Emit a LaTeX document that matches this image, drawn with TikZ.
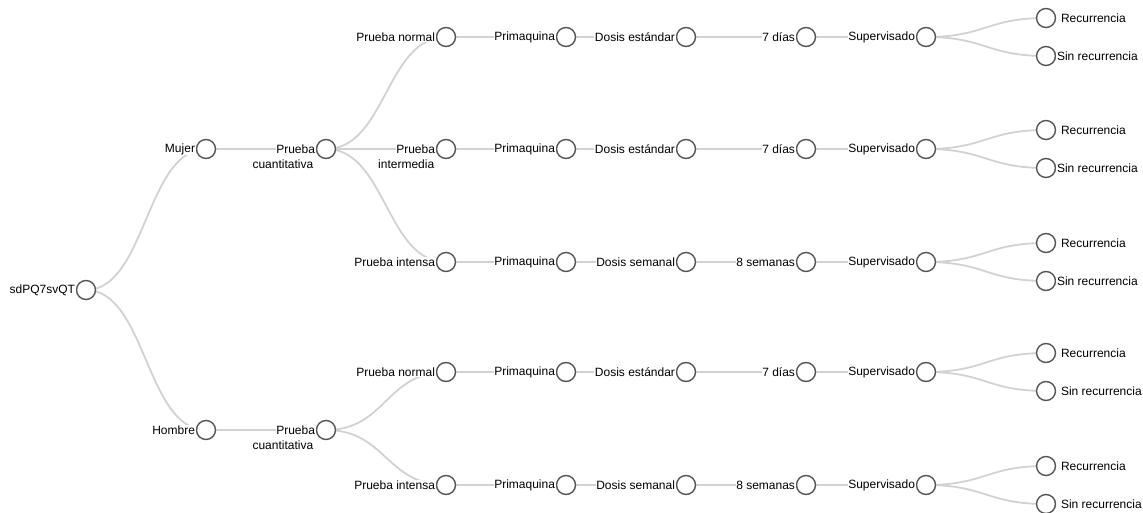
\documentclass[tikz,border=0pt]{standalone}
\usepackage{fontspec}
\setmainfont{Liberation Sans}
\usetikzlibrary{backgrounds}
\definecolor{linkgray}{HTML}{D2D2D2}
\definecolor{dotgray}{HTML}{555555}
\tikzset{
  dot/.style={circle,draw=dotgray,line width=1.4pt,fill=white,minimum size=19pt,inner sep=0pt},
  lbl/.style={font=\fontsize{12}{14}\selectfont,text=black,fill=white,inner sep=0.6pt},
  link/.style={draw=linkgray,line width=1.8pt},
}
\newcommand{\lnk}[2]{\draw[link] (#1.center) .. controls +(60,0) and +(-60,0) .. (#2.center);}
\begin{document}
\begin{tikzpicture}[x=1pt,y=-1pt]
\useasboundingbox (0,0) rectangle (1143,513);
% nodes
\node[dot] (r) at (86,290) {};
\node[lbl,anchor=east] (rL) at (r.west) {sdPQ7svQT};
\node[dot] (m) at (206,149) {};
\node[lbl,anchor=east] (mL) at (m.west) {Mujer};
\node[dot] (h) at (206,430) {};
\node[lbl,anchor=east] (hL) at (h.west) {Hombre};
\node[dot] (mc) at (326,149) {};
\node[lbl,anchor=east] (mcL) at (mc.west) {Prueba};
\node[lbl,anchor=east] (mcL2) at (314,164) {cuantitativa};
\node[dot] (hc) at (326,430) {};
\node[lbl,anchor=east] (hcL) at (hc.west) {Prueba};
\node[lbl,anchor=east] (hcL2) at (314,445) {cuantitativa};
\foreach \b/\y/\tst/\dose/\dur/\ns in {m1/37/Prueba normal/Dosis estándar/7 días/0,
  m2/149/Prueba/Dosis estándar/7 días/0,
  m3/262/Prueba intensa/Dosis semanal/8 semanas/0,
  h1/372/Prueba normal/Dosis estándar/7 días/4,
  h3/485/Prueba intensa/Dosis semanal/8 semanas/4}{
  \node[dot] (\b) at (446,\y) {};
  \node[lbl,anchor=east] (\b L) at (\b.west) {\tst};
  \node[dot] (\b P) at (566,\y) {};
  \node[lbl,anchor=east] (\b PL) at (\b P.west) {Primaquina};
  \node[dot] (\b D) at (686,\y) {};
  \node[lbl,anchor=east] (\b DL) at (\b D.west) {\dose};
  \node[dot] (\b T) at (806,\y) {};
  \node[lbl,anchor=east] (\b TL) at (\b T.west) {\dur};
  \node[dot] (\b S) at (926,\y) {};
  \node[lbl,anchor=east] (\b SL) at (\b S.west) {Supervisado};
  \node[dot] (\b R) at (1046,\y-19) {};
  \node[lbl,anchor=west] (\b RL) at ([xshift=4pt]\b R.east) {Recurrencia};
  \node[dot] (\b N) at (1046,\y+19) {};
  \node[lbl,anchor=west] (\b NL) at ([xshift=\ns pt]\b N.east) {Sin recurrencia};
}
\node[lbl,anchor=east] (m2L2) at (435,164) {intermedia};
% links
\begin{pgfonlayer}{background}
\lnk{r}{m}
\lnk{r}{h}
\lnk{m}{mc}
\lnk{h}{hc}
\lnk{mc}{m1}
\lnk{mc}{m2}
\lnk{mc}{m3}
\lnk{hc}{h1}
\lnk{hc}{h3}
\foreach \b in {m1,m2,m3,h1,h3}{
  \lnk{\b}{\b P}
  \lnk{\b P}{\b D}
  \lnk{\b D}{\b T}
  \lnk{\b T}{\b S}
  \lnk{\b S}{\b R}
  \lnk{\b S}{\b N}
}
\end{pgfonlayer}
\end{tikzpicture}
\end{document}
